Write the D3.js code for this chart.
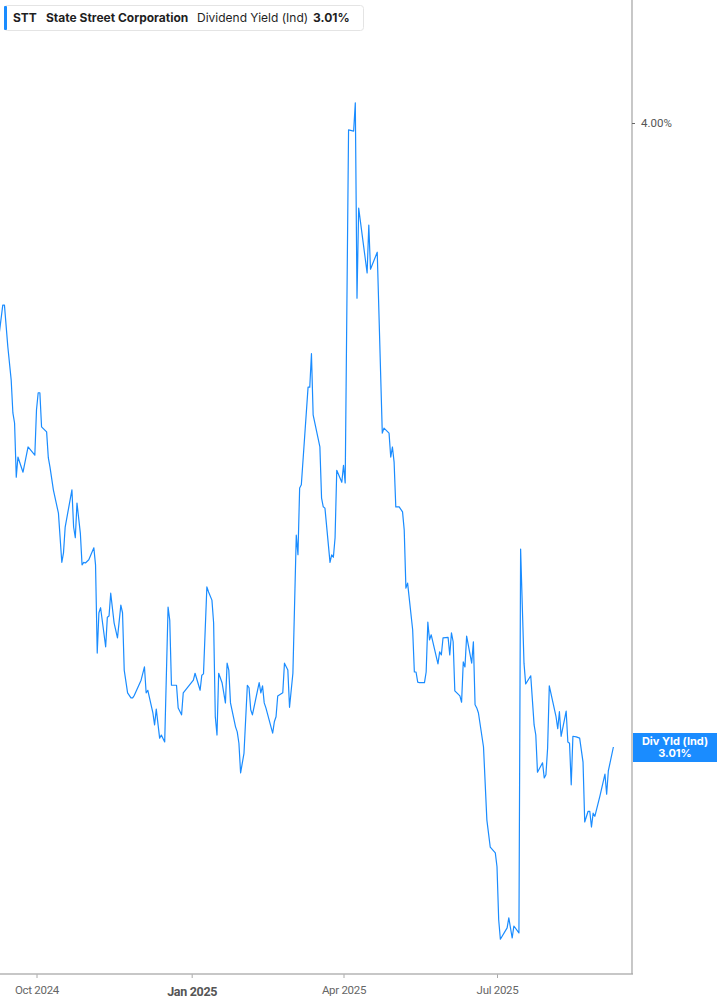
<!DOCTYPE html>
<html>
<head>
<meta charset="utf-8">
<script src="https://cdn.jsdelivr.net/npm/d3@7"></script>
<style>
  body { margin: 0; background: #fff; }
  text { font-family: Inter, "Noto Sans", sans-serif; }
</style>
</head>
<body>
<div id="canvas"></div>
<script>
// STT dividend yield (indicated), %
const dates = [
  "2024-09-09","2024-09-11","2024-09-12","2024-09-14","2024-09-16","2024-09-17","2024-09-18","2024-09-19","2024-09-20","2024-09-23","2024-09-26","2024-09-30",
  "2024-10-01","2024-10-02","2024-10-03","2024-10-04","2024-10-07","2024-10-08","2024-10-09","2024-10-11","2024-10-14","2024-10-16","2024-10-17","2024-10-18","2024-10-22","2024-10-23","2024-10-24","2024-10-25","2024-10-27","2024-10-28","2024-10-29","2024-10-30",
  "2024-11-01","2024-11-04","2024-11-05","2024-11-06","2024-11-07","2024-11-08","2024-11-11","2024-11-12","2024-11-13","2024-11-14","2024-11-16","2024-11-18","2024-11-20","2024-11-21","2024-11-22","2024-11-24","2024-11-26","2024-11-27","2024-11-28",
  "2024-12-02","2024-12-04","2024-12-05","2024-12-06","2024-12-09","2024-12-10","2024-12-11","2024-12-13","2024-12-14","2024-12-16","2024-12-18","2024-12-19","2024-12-20","2024-12-23","2024-12-24","2024-12-26","2024-12-27",
  "2025-01-02","2025-01-03","2025-01-06","2025-01-07","2025-01-08","2025-01-10","2025-01-11","2025-01-13","2025-01-14","2025-01-15","2025-01-16","2025-01-17","2025-01-19","2025-01-21","2025-01-22","2025-01-23","2025-01-24","2025-01-27","2025-01-28","2025-01-29","2025-01-30",
  "2025-02-01","2025-02-03","2025-02-04","2025-02-05","2025-02-06","2025-02-10","2025-02-11","2025-02-12","2025-02-13","2025-02-14","2025-02-18","2025-02-19","2025-02-20","2025-02-21","2025-02-24","2025-02-25","2025-02-27","2025-02-28",
  "2025-03-02","2025-03-04","2025-03-05","2025-03-06","2025-03-07","2025-03-11","2025-03-12","2025-03-13","2025-03-14","2025-03-18","2025-03-19","2025-03-20","2025-03-21","2025-03-24","2025-03-25","2025-03-26","2025-03-27","2025-03-28","2025-03-31",
  "2025-04-01","2025-04-02","2025-04-04","2025-04-07","2025-04-08","2025-04-09","2025-04-10","2025-04-15","2025-04-16","2025-04-17","2025-04-21","2025-04-24","2025-04-25","2025-04-28","2025-04-29","2025-04-30",
  "2025-05-01","2025-05-02","2025-05-04","2025-05-06","2025-05-07","2025-05-08","2025-05-09","2025-05-12","2025-05-13","2025-05-14","2025-05-15","2025-05-16","2025-05-19","2025-05-20","2025-05-21","2025-05-22","2025-05-23","2025-05-27","2025-05-28","2025-05-29","2025-05-30",
  "2025-06-02","2025-06-03","2025-06-04","2025-06-05","2025-06-06","2025-06-09","2025-06-10","2025-06-11","2025-06-12","2025-06-13","2025-06-16","2025-06-17","2025-06-18","2025-06-19","2025-06-20","2025-06-23","2025-06-25","2025-06-27","2025-06-30",
  "2025-07-01","2025-07-02","2025-07-03","2025-07-07","2025-07-08","2025-07-10","2025-07-11","2025-07-14","2025-07-15","2025-07-17","2025-07-18","2025-07-21","2025-07-23","2025-07-24","2025-07-25","2025-07-28","2025-07-29","2025-07-30","2025-07-31",
  "2025-08-01","2025-08-05","2025-08-06","2025-08-07","2025-08-08","2025-08-11","2025-08-12","2025-08-13","2025-08-14","2025-08-15","2025-08-17","2025-08-19","2025-08-21","2025-08-22","2025-08-24","2025-08-25","2025-08-26","2025-08-27","2025-08-28","2025-08-31",
  "2025-09-03","2025-09-04","2025-09-05","2025-09-08"
];

const yields = [
  3.668, 3.711, 3.711, 3.645, 3.592, 3.540, 3.524, 3.438, 3.470, 3.446, 3.486, 3.473,
  3.545, 3.572, 3.572, 3.518, 3.510, 3.469, 3.454, 3.418, 3.381, 3.303, 3.318, 3.359, 3.418, 3.359, 3.342, 3.397, 3.349, 3.299, 3.303, 3.302,
  3.307, 3.326, 3.299, 3.159, 3.223, 3.231, 3.169, 3.216, 3.218, 3.254, 3.207, 3.183, 3.235, 3.223, 3.132, 3.096, 3.088, 3.088, 3.092,
  3.116, 3.137, 3.096, 3.100, 3.064, 3.045, 3.070, 3.024, 3.029, 3.018, 3.232, 3.211, 3.108, 3.108, 3.072, 3.061, 3.096,
  3.116, 3.127, 3.100, 3.124, 3.126, 3.264, 3.256, 3.243, 3.207, 3.058, 3.029, 3.127, 3.112, 3.080, 3.143, 3.132, 3.080, 3.042, 3.034, 3.016, 2.969,
  3.000, 3.108, 3.104, 3.069, 3.061, 3.112, 3.096, 3.107, 3.080, 3.072, 3.032, 3.050, 3.058, 3.091, 3.096, 3.143, 3.132, 3.073,
  3.127, 3.346, 3.315, 3.421, 3.426, 3.581, 3.581, 3.634, 3.537, 3.486, 3.405, 3.391, 3.389, 3.303, 3.315, 3.311, 3.342, 3.449, 3.430,
  3.457, 3.429, 3.989, 3.987, 4.032, 3.722, 3.865, 3.762, 3.838, 3.768, 3.795, 3.508, 3.516, 3.508, 3.470, 3.486,
  3.462, 3.391, 3.391, 3.383, 3.354, 3.262, 3.270, 3.196, 3.129, 3.129, 3.113, 3.112, 3.112, 3.129, 3.208, 3.180, 3.188, 3.142, 3.161, 3.156, 3.183,
  3.184, 3.156, 3.191, 3.177, 3.099, 3.091, 3.081, 3.145, 3.137, 3.186, 3.143, 3.177, 3.077, 3.072, 3.064, 3.010, 2.894, 2.851, 2.842,
  2.820, 2.736, 2.705, 2.723, 2.739, 2.707, 2.726, 2.715, 3.324, 3.143, 3.110, 3.123, 3.045, 3.029, 2.970, 2.985, 2.961, 2.966, 3.008,
  3.107, 3.058, 3.039, 3.066, 3.027, 3.067, 3.018, 3.016, 2.950, 3.027, 3.026, 3.024, 2.986, 2.891, 2.908, 2.908, 2.883, 2.905, 2.900, 2.932,
  2.967, 2.935, 2.972, 3.010
];

const tickDates = ["2024-10-01", "2025-01-01", "2025-04-01", "2025-07-01"];
const tickLabels = ["Oct 2024", "Jan 2025", "Apr 2025", "Jul 2025"];
const yTicks = [4.0];
const lastYield = 3.01;

const width = 717;
const height = 1005;
const plot = { left: 0, right: 632, top: 0, bottom: 974 };
const blue = "#1a8cff";

const parse = d3.timeParse("%Y-%m-%d");
const data = dates.map((d, i) => ({ date: parse(d), value: yields[i] }));

const svg = d3.select("#canvas").append("svg")
  .attr("width", width)
  .attr("height", height);

// calibrated on the two outer month ticks
const x = d3.scaleTime()
  .domain([parse("2024-10-01"), parse("2025-07-01")])
  .range([36.5, 497]);

const y = d3.scaleLinear()
  .domain([3.01, 4.0])
  .range([747, 123]);

svg.append("clipPath").attr("id", "clip")
  .append("rect")
  .attr("x", plot.left).attr("y", plot.top)
  .attr("width", plot.right - plot.left).attr("height", plot.bottom - plot.top);

const line = d3.line()
  .x((d) => x(d.date))
  .y((d) => y(d.value));

svg.append("path")
  .datum(data)
  .attr("clip-path", "url(#clip)")
  .attr("fill", "none")
  .attr("stroke", blue)
  .attr("stroke-width", 1.2)
  .attr("stroke-linejoin", "round")
  .attr("d", line);

// bottom axis
const xAxis = svg.append("g")
  .attr("transform", `translate(0,${plot.bottom})`)
  .call(d3.axisBottom(x)
    .tickValues(tickDates.map(parse))
    .tickSize(4)
    .tickFormat((d, i) => tickLabels[i]));

xAxis.select(".domain").remove();
xAxis.selectAll(".tick line").attr("stroke", "#aaa");
xAxis.selectAll(".tick text")
  .attr("y", 12)
  .attr("fill", "#666")
  .style("font-family", "Roboto, sans-serif")
  .style("font-size", "11.5px")
  .style("letter-spacing", "-0.3px")
  .filter((d, i) => tickLabels[i].startsWith("Jan"))
  .attr("y", 13)
  .attr("fill", "#555")
  .style("font-weight", "bold")
  .style("font-size", "12.5px");

svg.append("line")
  .attr("x1", plot.left).attr("x2", plot.right + 1)
  .attr("y1", plot.bottom).attr("y2", plot.bottom)
  .attr("stroke", "#b4b4b4")
  .attr("stroke-width", 1.6);

// right axis
svg.append("line")
  .attr("x1", plot.right).attr("x2", plot.right)
  .attr("y1", 0).attr("y2", plot.bottom)
  .attr("stroke", "#aaa")
  .attr("stroke-width", 1.3);

const yAxis = svg.append("g")
  .attr("transform", `translate(${plot.right},0)`)
  .call(d3.axisRight(y)
    .tickValues(yTicks)
    .tickSize(3)
    .tickPadding(6)
    .tickFormat((d) => d.toFixed(2) + "%"));

yAxis.select(".domain").remove();
yAxis.selectAll(".tick line").attr("stroke", "#666");
yAxis.selectAll(".tick text")
  .attr("fill", "#555")
  .style("font-family", "Roboto, sans-serif")
  .style("font-size", "11.5px");

// last value flag
const flag = svg.append("g").attr("transform", `translate(${plot.right + 1},${y(lastYield) - 14})`);
flag.append("rect")
  .attr("width", width - plot.right)
  .attr("height", 29)
  .attr("fill", blue);
flag.append("text")
  .attr("x", 42).attr("y", 12)
  .attr("text-anchor", "middle")
  .attr("fill", "#fff")
  .style("font-size", "11px")
  .style("font-weight", "bold")
  .text("Div Yld (Ind)");
flag.append("text")
  .attr("x", 42).attr("y", 24)
  .attr("text-anchor", "middle")
  .attr("fill", "#fff")
  .style("font-size", "11px")
  .style("font-weight", "bold")
  .text(lastYield.toFixed(2) + "%");

// legend box
const legend = svg.append("g").attr("transform", "translate(4,5)");
legend.append("rect")
  .attr("x", 0.5).attr("y", 0.5)
  .attr("width", 359).attr("height", 25)
  .attr("rx", 3)
  .attr("fill", "#fff")
  .attr("stroke", "#e4e4e4");
legend.append("rect")
  .attr("x", 0).attr("y", 1)
  .attr("width", 3).attr("height", 24)
  .attr("rx", 1)
  .attr("fill", blue);

const legendItems = [
  { t: "STT", x: 9, w: "bold" },
  { t: "State Street Corporation", x: 42, w: "bold" },
  { t: "Dividend Yield (Ind)", x: 193, w: "normal" },
  { t: lastYield.toFixed(2) + "%", x: 309, w: "bold" }
];
legend.selectAll("text.lg")
  .data(legendItems)
  .enter()
  .append("text")
  .attr("class", "lg")
  .attr("x", (d) => d.x)
  .attr("y", 17)
  .attr("fill", "#1f1f1f")
  .style("font-size", "12px")
  .style("font-weight", (d) => d.w)
  .text((d) => d.t);
</script>
</body>
</html>
